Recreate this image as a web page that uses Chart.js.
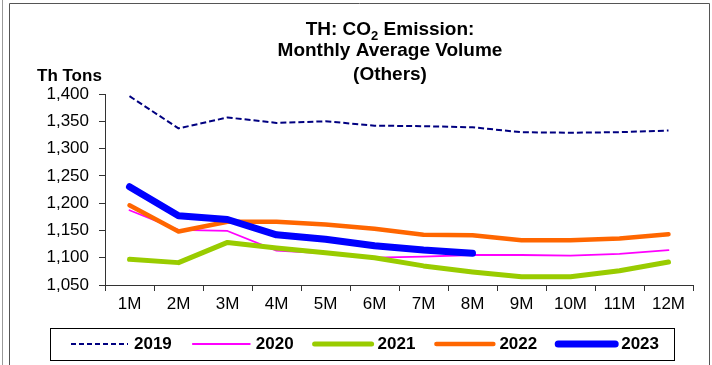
<!DOCTYPE html>
<html>
<head>
<meta charset="utf-8">
<script src="https://cdn.jsdelivr.net/npm/chart.js@4/dist/chart.umd.min.js"></script>
<style>
  html, body { margin: 0; padding: 0; background: #fff; }
  #co2Chart { display: block; }
</style>
</head>
<body>
<canvas id="co2Chart" width="712" height="365"></canvas>
<script>
// Monthly average volume, thousand tons
const months = ['1M', '2M', '3M', '4M', '5M', '6M', '7M', '8M', '9M', '10M', '11M', '12M'];
const y2019 = [1396, 1337, 1357, 1347, 1350, 1342, 1341, 1339, 1330, 1329, 1330, 1333];
const y2020 = [1187, 1151, 1149, 1113, 1108, 1100, 1102, 1105, 1105, 1104, 1107, 1114];
const y2021 = [1097, 1091, 1128, 1118, 1109, 1100, 1085, 1074, 1065, 1065, 1076, 1092];
const y2022 = [1196, 1148, 1166, 1166, 1161, 1153, 1142, 1141, 1132, 1132, 1135, 1143];
const y2023 = [1230, 1177, 1170, 1142, 1134, 1122, 1114, 1108];

const yMin = 1050;
const yMax = 1400;
const yStep = 50;

const FONT = '"Liberation Sans", Arial, sans-serif';
const AXIS = '#333333';

function series(label, data, color, width, order, dash) {
    return {
        label: label,
        data: data,
        borderColor: color,
        backgroundColor: color,
        borderWidth: width,
        borderDash: dash || [],
        borderCapStyle: dash ? 'butt' : 'round',
        borderJoinStyle: 'round',
        pointRadius: 0,
        pointHoverRadius: 0,
        tension: 0,
        fill: false,
        order: order,
    };
}

// Frame, title, unit label and boxed legend
const decorations = {
    id: 'decorations',
    beforeDraw(chart) {
        const ctx = chart.ctx;
        ctx.save();
        ctx.fillStyle = '#fff';
        ctx.fillRect(0, 0, chart.width, chart.height);
        ctx.restore();
    },
    afterDraw(chart) {
        const ctx = chart.ctx;
        ctx.save();

        // outer frames
        ctx.lineWidth = 1;
        ctx.strokeStyle = '#9a9a9a';
        ctx.beginPath();
        ctx.moveTo(2.5, 0);
        ctx.lineTo(2.5, chart.height);
        ctx.stroke();
        ctx.strokeStyle = '#555';
        ctx.beginPath();
        ctx.moveTo(9.5, chart.height);
        ctx.lineTo(9.5, 3.5);
        ctx.lineTo(709.5, 3.5);
        ctx.lineTo(709.5, chart.height);
        ctx.stroke();

        // title
        ctx.fillStyle = '#000';
        ctx.textBaseline = 'alphabetic';
        ctx.textAlign = 'left';
        const cx = 390;
        const big = 'bold 19px ' + FONT;
        const small = 'bold 13px ' + FONT;
        const parts = [['TH: CO', big, 0], ['2', small, 5], [' Emission:', big, 0]];
        let total = 0;
        parts.forEach(p => { ctx.font = p[1]; total += ctx.measureText(p[0]).width; });
        let x = cx - total / 2;
        parts.forEach(p => {
            ctx.font = p[1];
            ctx.fillText(p[0], x, 35 + p[2]);
            x += ctx.measureText(p[0]).width;
        });
        ctx.font = big;
        ctx.textAlign = 'center';
        ctx.fillText('Monthly Average Volume', cx, 56);
        ctx.fillText('(Others)', cx, 80);

        // unit label
        ctx.font = 'bold 17px ' + FONT;
        ctx.textAlign = 'left';
        ctx.fillText('Th Tons', 37, 81);

        // legend box
        ctx.strokeStyle = '#000';
        ctx.lineWidth = 1;
        ctx.strokeRect(50.5, 328.5, 624, 32);
        ctx.textBaseline = 'middle';
        const legY = 344;
        chart.data.datasets.forEach((ds, i) => {
            const lx = 71 + i * 121.8;
            ctx.save();
            ctx.strokeStyle = ds.borderColor;
            ctx.lineWidth = ds.borderWidth;
            ctx.lineCap = ds.borderDash.length ? 'butt' : 'round';
            ctx.setLineDash(ds.borderDash.length ? [5, 3] : []);
            ctx.beginPath();
            ctx.moveTo(lx, legY);
            ctx.lineTo(lx + 57, legY);
            ctx.stroke();
            ctx.restore();
            ctx.fillStyle = '#000';
            ctx.font = 'bold 17px ' + FONT;
            ctx.fillText(ds.label, lx + 63, legY);
        });

        ctx.restore();
    }
};

new Chart(document.getElementById('co2Chart'), {
    type: 'line',
    data: {
        labels: months,
        datasets: [
            series('2019', y2019, '#000080', 2, 5, [6, 3]),
            series('2020', y2020, '#ff00ff', 1.8, 4),
            series('2021', y2021, '#99cc00', 5, 3),
            series('2022', y2022, '#ff6600', 4.5, 2),
            series('2023', y2023, '#0000ff', 7, 1),
        ]
    },
    options: {
        responsive: false,
        animation: false,
        events: [],
        layout: {
            padding: { top: 94, left: 10, right: 19, bottom: 40 },
        },
        plugins: {
            legend: { display: false },
            title: { display: false },
            tooltip: { enabled: false },
        },
        scales: {
            x: {
                offset: true,
                afterFit(scale) { scale.height = 40; },
                grid: {
                    offset: true,
                    drawOnChartArea: false,
                    drawTicks: true,
                    tickLength: 6,
                    color: AXIS,
                },
                border: { display: true, color: AXIS, width: 1 },
                ticks: {
                    color: '#000',
                    font: { family: FONT, size: 17 },
                    padding: 3,
                    maxRotation: 0,
                    autoSkip: false,
                },
            },
            y: {
                min: yMin,
                max: yMax,
                afterFit(scale) { scale.width = 95; },
                grid: {
                    drawOnChartArea: false,
                    drawTicks: true,
                    tickLength: 6,
                    color: AXIS,
                },
                border: { display: true, color: AXIS, width: 1 },
                ticks: {
                    stepSize: yStep,
                    color: '#000',
                    font: { family: FONT, size: 17 },
                    padding: 10,
                    callback: v => v.toLocaleString('en-US'),
                },
            },
        },
    },
    plugins: [decorations],
});
</script>
</body>
</html>
